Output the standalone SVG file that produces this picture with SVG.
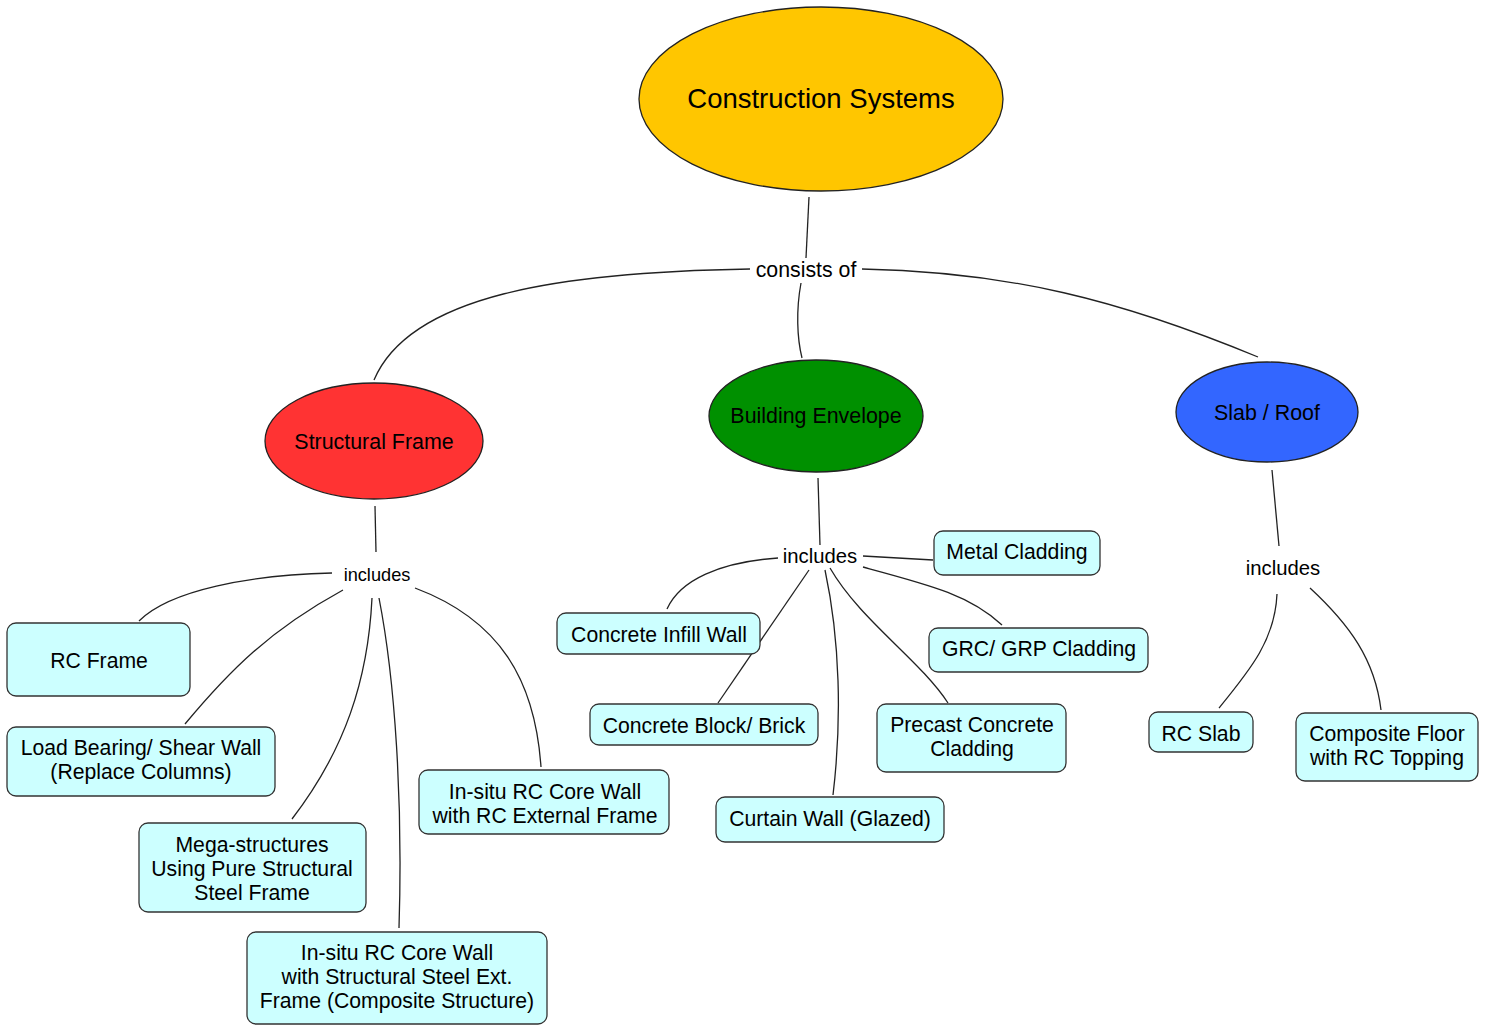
<svg xmlns="http://www.w3.org/2000/svg" width="1491" height="1025" viewBox="0 0 1491 1025">
<style>
text{font-family:"Liberation Sans",Arial,sans-serif;fill:#000;text-anchor:middle;dominant-baseline:central}
.box{fill:#ccffff;stroke:#333;stroke-width:1.3}
.ell{stroke:#222;stroke-width:1.3}
.t{font-size:21.2px}
.lbl{font-size:20.3px}
.e{font-size:21.4px}
#connectors path{fill:none;stroke:#222;stroke-width:1.3}
</style>
<rect width="1491" height="1025" fill="#fff"/>
<g id="connectors">
<path d="M809,197 L806,258"/>
<path d="M801,283 C796,310 797,338 802,358"/>
<path d="M750,269 C560,272 410,295 374,380"/>
<path d="M862,269 C1010,272 1120,300 1258,357"/>
<path d="M375,506 L376,552"/>
<path d="M332,573 C250,575 170,590 139,621"/>
<path d="M343,590 C270,630 230,670 185,724"/>
<path d="M372,598 C368,680 345,750 292,819"/>
<path d="M379,598 C395,680 403,800 399,928"/>
<path d="M415,588 C500,620 535,680 541,767"/>
<path d="M818,478 L820,545"/>
<path d="M778,558 C720,562 680,580 667,609"/>
<path d="M809,570 L718,703"/>
<path d="M825,570 C840,640 842,720 833,795"/>
<path d="M830,568 C860,620 920,660 948,703"/>
<path d="M863,567 C930,585 970,595 1002,625"/>
<path d="M863,556 L933,560"/>
<path d="M1272,470 L1279,546"/>
<path d="M1277,594 C1275,640 1250,670 1219,708"/>
<path d="M1310,588 C1350,625 1375,660 1381,710"/>
</g>
<g id="lbl-consists"><text style="font-size:21.3px" x="806" y="270">consists of</text></g>
<g id="lbl-sf-includes"><text style="font-size:18.2px" x="377" y="575">includes</text></g>
<g id="lbl-be-includes"><text class="lbl" x="820" y="556">includes</text></g>
<g id="lbl-sr-includes"><text class="lbl" x="1283" y="568">includes</text></g>

<g id="construction-systems"><ellipse class="ell" cx="821" cy="99" rx="182" ry="92" fill="#ffc600"/><text style="font-size:27.5px" x="821" y="98">Construction Systems</text></g>
<g id="structural-frame"><ellipse class="ell" cx="374" cy="441" rx="109" ry="58" fill="#ff3333"/><text class="e" x="374" y="442">Structural Frame</text></g>
<g id="building-envelope"><ellipse class="ell" cx="816" cy="416" rx="107" ry="56" fill="#009000"/><text class="e" x="816" y="416">Building Envelope</text></g>
<g id="slab-roof"><ellipse class="ell" cx="1267" cy="412" rx="91" ry="50" fill="#3366ff"/><text class="e" x="1267" y="413">Slab / Roof</text></g>

<g id="rc-frame"><rect class="box" x="7" y="623" width="183" height="73" rx="9"/><text class="t" x="99" y="660">RC Frame</text></g>
<g id="load-bearing"><rect class="box" x="7" y="727" width="268" height="69" rx="9"/><text class="t" x="141" y="747">Load Bearing/ Shear Wall</text><text class="t" x="141" y="771">(Replace Columns)</text></g>
<g id="mega-structures"><rect class="box" x="139" y="823" width="227" height="89" rx="9"/><text class="t" x="252" y="844">Mega-structures</text><text class="t" x="252" y="868">Using Pure Structural</text><text class="t" x="252" y="892">Steel Frame</text></g>
<g id="insitu-steel"><rect class="box" x="247" y="932" width="300" height="92" rx="9"/><text class="t" x="397" y="952">In-situ RC Core Wall</text><text class="t" x="397" y="976">with Structural Steel Ext.</text><text class="t" x="397" y="1000">Frame (Composite Structure)</text></g>
<g id="insitu-rc"><rect class="box" x="419" y="770" width="250" height="64" rx="9"/><text class="t" x="545" y="791">In-situ RC Core Wall</text><text class="t" x="545" y="815">with RC External Frame</text></g>
<g id="concrete-infill"><rect class="box" x="557" y="613" width="203" height="41" rx="9"/><text class="t" x="659" y="634">Concrete Infill Wall</text></g>
<g id="metal-cladding"><rect class="box" x="934" y="531" width="166" height="44" rx="9"/><text class="t" x="1017" y="551">Metal Cladding</text></g>
<g id="grc-grp"><rect class="box" x="929" y="628" width="219" height="44" rx="9"/><text class="t" x="1039" y="648">GRC/ GRP Cladding</text></g>
<g id="concrete-block"><rect class="box" x="590" y="704" width="228" height="41" rx="9"/><text class="t" x="704" y="725">Concrete Block/ Brick</text></g>
<g id="precast"><rect class="box" x="877" y="704" width="189" height="68" rx="9"/><text class="t" x="972" y="724">Precast Concrete</text><text class="t" x="972" y="748">Cladding</text></g>
<g id="curtain-wall"><rect class="box" x="716" y="797" width="228" height="45" rx="9"/><text class="t" x="830" y="818">Curtain Wall (Glazed)</text></g>
<g id="rc-slab"><rect class="box" x="1149" y="712" width="104" height="40" rx="9"/><text class="t" x="1201" y="733">RC Slab</text></g>
<g id="composite-floor"><rect class="box" x="1296" y="713" width="182" height="68" rx="9"/><text class="t" x="1387" y="733">Composite Floor</text><text class="t" x="1387" y="757">with RC Topping</text></g>
</svg>
